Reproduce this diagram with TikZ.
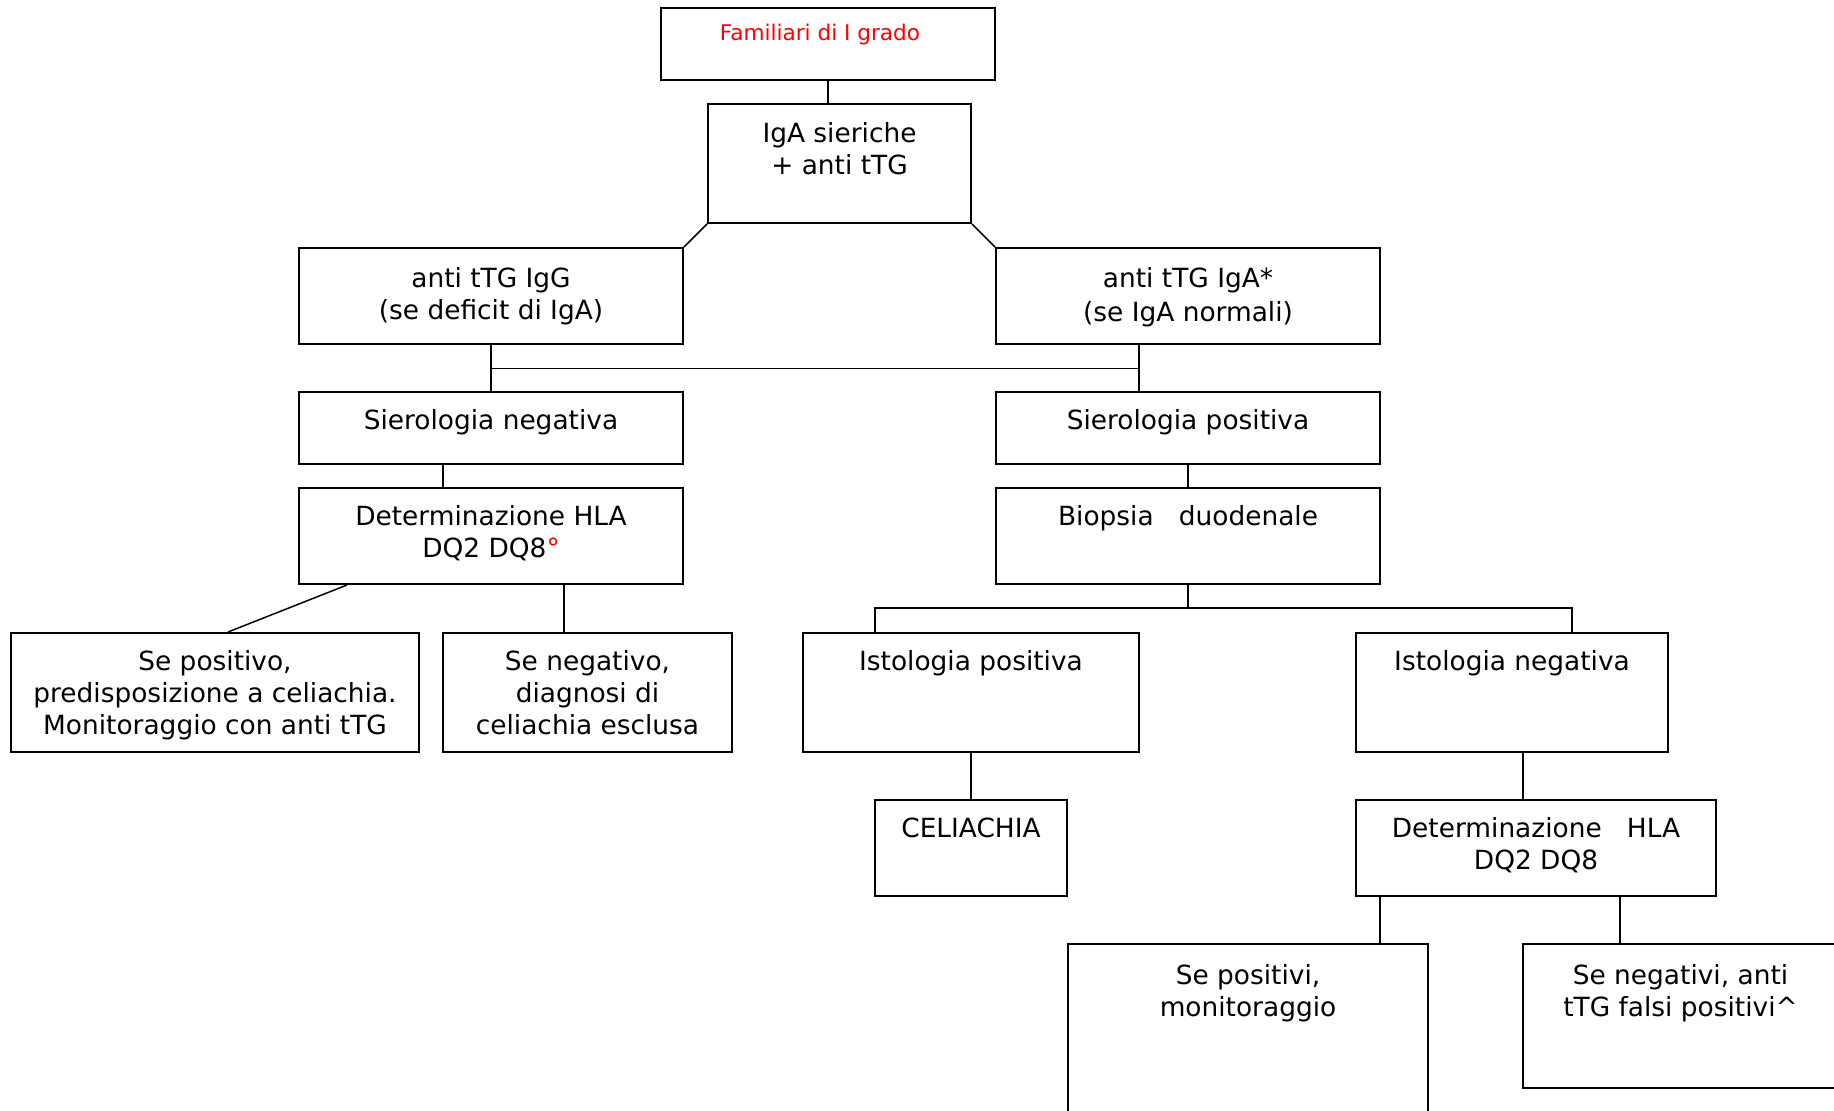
\documentclass[tikz,border=0pt]{standalone}
\usepackage{fontspec}
\setmainfont{DejaVu Sans}
\usetikzlibrary{positioning}
\tikzset{
    box/.style={draw, line width=1pt, inner sep=0pt},
    txt/.style={font=\fontsize{13.2}{16}\selectfont, align=center, inner sep=0pt},
    link/.style={line width=0.75pt}
}

\begin{document}
\begin{tikzpicture}[x=0.5pt, y=-0.5pt]
    \clip (0,0) rectangle (1834,1110);

    % boxes
    \node[box, minimum width=167pt, minimum height=36pt] (fam) at (828,44) {};
    \node[box, minimum width=131.5pt, minimum height=59.5pt] (iga) at (839.5,163.5) {};
    \node[box, minimum width=192pt, minimum height=48pt] (igg) at (491,296) {};
    \node[box, minimum width=192pt, minimum height=48pt] (igaN) at (1188,296) {};
    \node[box, minimum width=192pt, minimum height=36pt] (sneg) at (491,428) {};
    \node[box, minimum width=192pt, minimum height=36pt] (spos) at (1188,428) {};
    \node[box, minimum width=192pt, minimum height=48pt] (hlaL) at (491,536) {};
    \node[box, minimum width=192pt, minimum height=48pt] (biop) at (1188,536) {};
    \node[box, minimum width=204pt, minimum height=59.5pt] (sepos) at (215,692.5) {};
    \node[box, minimum width=144.5pt, minimum height=59.5pt] (seneg) at (587.5,692.5) {};
    \node[box, minimum width=168pt, minimum height=59.5pt] (istP) at (971,692.5) {};
    \node[box, minimum width=156pt, minimum height=59.5pt] (istN) at (1512,692.5) {};
    \node[box, minimum width=96pt, minimum height=48pt] (cel) at (971,848) {};
    \node[box, minimum width=180pt, minimum height=48pt] (hlaR) at (1536,848) {};
    \node[box, minimum width=180pt, minimum height=98pt] (sepi) at (1248,1042) {};
    \node[box, minimum width=157.5pt, minimum height=72pt] (seni) at (1680.5,1016) {};

    % texts
    \node[txt, font=\fontsize{10.8}{13}\selectfont, text=red, below=8.5pt of fam.north, xshift=-4pt] (famT) {Familiari di I grado};
    \node[txt, below=9.5pt of iga.north] (igaT) {IgA sieriche\\+ anti tTG};
    \node[txt, below=10pt of igg.north] (iggT) {anti tTG IgG\\(se deficit di IgA)};
    \node[txt, below=10pt of igaN.north] (igaNT) {anti tTG IgA*\\[1pt](se IgA normali)};
    \node[txt, below=9pt of sneg.north] (snegT) {Sierologia negativa};
    \node[txt, below=9pt of spos.north] (sposT) {Sierologia positiva};
    \node[txt, below=9pt of hlaL.north] (hlaLT) {Determinazione HLA\\DQ2 DQ8\textcolor{red}{°}};
    \node[txt, below=9pt of biop.north] (biopT) {Biopsia\ \ \ duodenale};
    \node[txt, below=9pt of sepos.north] (seposT) {Se positivo,\\predisposizione a celiachia.\\Monitoraggio con anti tTG};
    \node[txt, below=9pt of seneg.north] (senegT) {Se negativo,\\diagnosi di\\celiachia esclusa};
    \node[txt, below=9pt of istP.north] (istPT) {Istologia positiva};
    \node[txt, below=9pt of istN.north] (istNT) {Istologia negativa};
    \node[txt, below=9pt of cel.north] (celT) {CELIACHIA};
    \node[txt, below=9pt of hlaR.north] (hlaRT) {Determinazione\ \ \ HLA\\DQ2 DQ8};
    \node[txt, below=10.5pt of sepi.north] (sepiT) {Se positivi,\\monitoraggio};
    \node[txt, below=10.5pt of seni.north] (seniT) {Se negativi, anti\\tTG falsi positivi\textasciicircum};

    % connectors
    \coordinate (bar) at (1139,368);
    \coordinate (split) at (1188,608);
    \draw[link] (fam.south) -- (fam.south |- iga.north);
    \draw[link] (iga.south west) -- (igg.north east);
    \draw[link] (iga.south east) -- (igaN.north west);
    \draw[link] (igg.south) -- (sneg.north);
    \draw[line width=0.5pt] (bar -| igg.south) -- (bar);
    \draw[link] (bar |- igaN.south) -- (bar |- spos.north);
    \draw[link] ([xshift=-24pt]sneg.south) -- ([xshift=-24pt]hlaL.north);
    \draw[link] (spos.south) -- (biop.north);
    \draw[link] ([xshift=-72pt]hlaL.south) -- ([xshift=6.5pt]sepos.north);
    \draw[link] ([xshift=36.5pt]hlaL.south) -- ([xshift=-11.75pt]seneg.north);
    \draw[link] (biop.south) -- (split);
    \draw[link] ([xshift=-48pt]istP.north) |- (split) -| ([xshift=30pt]istN.north);
    \draw[link] (istP.south) -- (cel.north);
    \draw[link] ([xshift=5.5pt]istN.south) -- ([xshift=-6.5pt]hlaR.north);
    \draw[link] ([xshift=-78pt]hlaR.south) -- ([xshift=66pt]sepi.north);
    \draw[link] ([xshift=42pt]hlaR.south) -- ([xshift=-30.25pt]seni.north);
\end{tikzpicture}
\end{document}
